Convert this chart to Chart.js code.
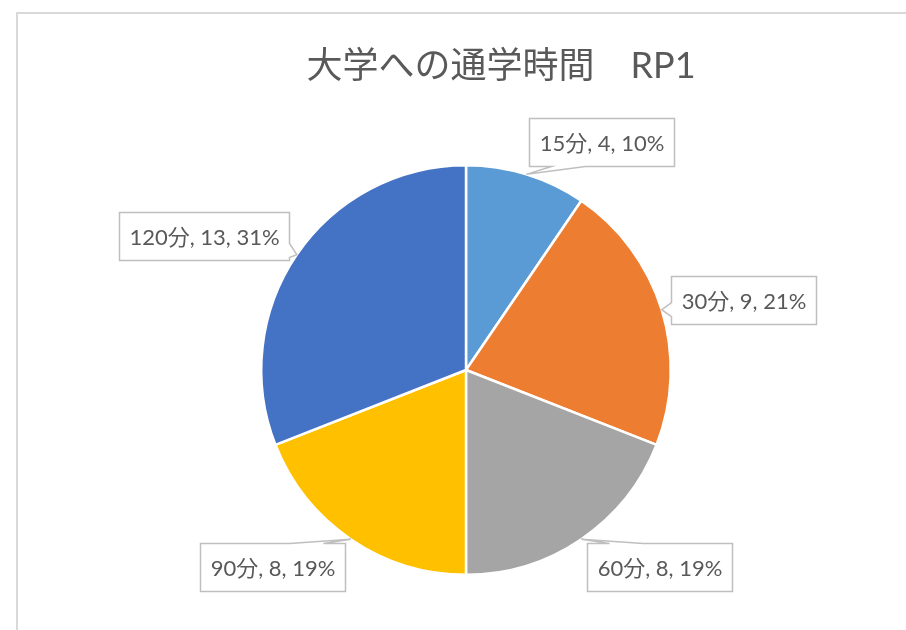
<!DOCTYPE html>
<html>
<head>
<meta charset="utf-8">
<script src="https://cdn.jsdelivr.net/npm/chart.js@4.4.0/dist/chart.umd.min.js"></script>
<style>
  html, body { margin: 0; padding: 0; background: #fff; }
  #wrap { width: 906px; height: 630px; }
</style>
</head>
<body>
<div id="wrap"><canvas id="myChart" width="906" height="630"></canvas></div>
<script>
'use strict';

// data
var titleText = '大学への通学時間　RP1';
var categories = ['15分', '30分', '60分', '90分', '120分'];
var counts = [4, 9, 8, 8, 13];
var sliceColors = ['#5B9BD5', '#ED7D31', '#A5A5A5', '#FFC000', '#4472C4'];

var textColor = '#595959';
var labelFont = '22px Lato, "Noto Sans CJK JP", sans-serif';
var titleFont = '36px Lato, "Noto Sans CJK JP", sans-serif';

var total = counts.reduce(function (a, b) { return a + b; }, 0);

function labelFor(i) {
  return categories[i] + ', ' + counts[i] + ', ' + Math.round(counts[i] / total * 100) + '%';
}

// builds the callout outline: box plus a wedge towards the tip
function calloutPath(ctx, l, t, r, b, tx, ty) {
  var pts = [];
  var edge;
  if (ty > b) edge = 'bottom';
  else if (ty < t) edge = 'top';
  else if (tx > r) edge = 'right';
  else edge = 'left';

  var a1, a2;
  if (edge === 'top' || edge === 'bottom') {
    if (tx <= (l + r) / 2) { a1 = l + 22; a2 = l + 56; }
    else { a1 = r - 56; a2 = r - 22; }
  } else {
    var c = Math.min(Math.max(ty, t + 10), b - 10);
    a1 = c - 7; a2 = c + 7;
  }

  pts.push([l, t]);
  if (edge === 'top') pts.push([a1, t], [tx, ty], [a2, t]);
  pts.push([r, t]);
  if (edge === 'right') pts.push([r, a1], [tx, ty], [r, a2]);
  pts.push([r, b]);
  if (edge === 'bottom') pts.push([a2, b], [tx, ty], [a1, b]);
  pts.push([l, b]);
  if (edge === 'left') pts.push([l, a2], [tx, ty], [l, a1]);

  ctx.beginPath();
  ctx.moveTo(pts[0][0], pts[0][1]);
  for (var k = 1; k < pts.length; k++) ctx.lineTo(pts[k][0], pts[k][1]);
  ctx.closePath();
}

var calloutPlugin = {
  id: 'callouts',
  beforeDraw: function (chart) {
    var ctx = chart.ctx;
    ctx.save();
    // chart frame (cut off by the window on the right and bottom)
    ctx.strokeStyle = '#D9D9D9';
    ctx.lineWidth = 2;
    ctx.strokeRect(17, 13, 2000, 2000);
    ctx.restore();
  },
  afterDraw: function (chart) {
    var ctx = chart.ctx;
    var meta = chart.getDatasetMeta(0);
    ctx.save();

    // title
    ctx.font = titleFont;
    ctx.fillStyle = textColor;
    ctx.textAlign = 'center';
    ctx.textBaseline = 'middle';
    ctx.fillText(titleText, 501, 66);

    ctx.font = labelFont;
    meta.data.forEach(function (arc, i) {
      var p = arc.getProps(['x', 'y', 'startAngle', 'endAngle', 'outerRadius'], true);
      var mid = (p.startAngle + p.endAngle) / 2;
      var ux = Math.cos(mid), uy = Math.sin(mid);
      var tx = p.x + ux * p.outerRadius;
      var ty = p.y + uy * p.outerRadius;
      var text = labelFor(i);
      var w = Math.round(ctx.measureText(text).width) + 20;
      var h = 48;
      var gap = 10;
      var cx = tx + ux * gap + (ux >= 0 ? 1 : -1) * w / 2;
      var cy = ty + uy * gap + uy * h / 2;
      var l = Math.round(cx - w / 2) + 0.5, r = l + w;
      var t = Math.round(cy - h / 2) + 0.5, b = t + h;

      calloutPath(ctx, l, t, r, b, tx, ty);
      ctx.fillStyle = '#FFFFFF';
      ctx.fill();
      ctx.strokeStyle = '#BFBFBF';
      ctx.lineWidth = 1.5;
      ctx.stroke();

      ctx.fillStyle = textColor;
      ctx.textAlign = 'center';
      ctx.textBaseline = 'middle';
      ctx.fillText(text, (l + r) / 2, (t + b) / 2 + 1);
    });
    ctx.restore();
  }
};

var canavas = document.getElementById('myChart').getContext('2d');

var chart = new Chart(canavas, {
  type: 'pie',
  data: {
    labels: categories,
    datasets: [{
      data: counts,
      backgroundColor: sliceColors,
      borderColor: '#FFFFFF',
      borderWidth: 2.5,
      hoverOffset: 0
    }]
  },
  options: {
    responsive: false,
    animation: false,
    events: [],
    layout: {
      padding: { top: 164, bottom: 54, left: 260, right: 234 }
    },
    plugins: {
      legend: { display: false },
      tooltip: { enabled: false },
      title: { display: false }
    }
  },
  plugins: [calloutPlugin]
});
</script>
</body>
</html>
